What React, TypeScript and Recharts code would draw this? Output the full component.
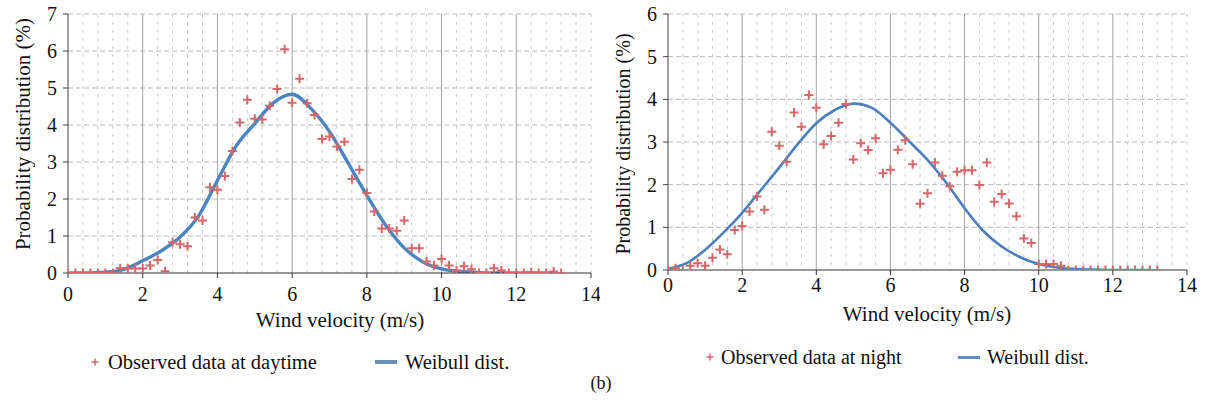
import React from 'react';
import { ComposedChart, XAxis, YAxis, CartesianGrid, Line, Scatter } from 'recharts';

// wind speed bins (m/s) of the observed histograms
const speeds = [
  0, 0.2, 0.4, 0.6, 0.8, 1.0, 1.2, 1.4, 1.6, 1.8, 2.0, 2.2, 2.4, 2.6, 2.8, 3.0, 3.2,
  3.4, 3.6, 3.8, 4.0, 4.2, 4.4, 4.6, 4.8, 5.0, 5.2, 5.4, 5.6, 5.8, 6.0, 6.2, 6.4, 6.6,
  6.8, 7.0, 7.2, 7.4, 7.6, 7.8, 8.0, 8.2, 8.4, 8.6, 8.8, 9.0, 9.2, 9.4, 9.6, 9.8, 10.0,
  10.2, 10.4, 10.6, 10.8, 11.0, 11.2, 11.4, 11.6, 11.8, 12.0, 12.2, 12.4, 12.6, 12.8,
  13.0, 13.2,
];

const dayObserved = [
  0, 0, 0, 0, 0, 0, 0, 0.13, 0.12, 0.12, 0.12, 0.2, 0.35, 0.05, 0.83, 0.78, 0.72,
  1.5, 1.42, 2.32, 2.25, 2.62, 3.3, 4.07, 4.68, 4.17, 4.15, 4.52, 4.97, 6.05, 4.6, 5.25, 4.59, 4.27,
  3.62, 3.69, 3.42, 3.55, 2.54, 2.79, 2.16, 1.66, 1.2, 1.2, 1.14, 1.42, 0.67, 0.67, 0.31, 0.2, 0.38,
  0.2, 0.07, 0.18, 0.1, 0, 0, 0.13, 0.07, 0, 0, 0, 0.02, 0, 0,
  0.04, 0,
];

const nightObserved = [
  0, 0.04, 0, 0.1, 0.16, 0.1, 0.29, 0.48, 0.37, 0.94, 1.03, 1.37, 1.72, 1.41, 3.24, 2.91, 2.54,
  3.69, 3.36, 4.1, 3.8, 2.95, 3.14, 3.45, 3.89, 2.59, 2.97, 2.81, 3.09, 2.27, 2.35, 2.82, 3.04, 2.48,
  1.55, 1.8, 2.52, 2.21, 1.96, 2.3, 2.34, 2.34, 1.99, 2.52, 1.6, 1.78, 1.56, 1.26, 0.74, 0.63, 0.14,
  0.14, 0.14, 0.1, 0, 0, 0, 0, 0, 0, 0, 0, 0, 0, 0,
  0, 0,
];

// fitted Weibull curves, read at 0.5 m/s steps
const curveSpeeds = [
  0, 0.5, 1, 1.5, 2, 2.5, 3, 3.5, 4, 4.5, 5, 5.5, 6, 6.5, 7, 7.5, 8, 8.5, 9, 9.5, 10,
  10.5, 11, 11.5, 12, 12.5, 13,
];
const dayWeibull = [
  0, 0, 0.02, 0.1, 0.33, 0.6, 0.97, 1.55, 2.5, 3.43, 4.04, 4.6, 4.83, 4.45, 3.82, 2.97, 2.1,
  1.3, 0.68, 0.3, 0.11, 0.04, 0.01, 0, 0, 0, 0,
];
const nightWeibull = [
  0.03, 0.16, 0.47, 0.88, 1.34, 1.87, 2.4, 2.95, 3.44, 3.75, 3.9, 3.8, 3.45, 3.02, 2.58, 2.05, 1.45,
  0.92, 0.55, 0.3, 0.14, 0.06, 0.02, 0.01, 0, 0, 0,
];

const xTicks = [0, 2, 4, 6, 8, 10, 12, 14];
const dayYTicks = [0, 1, 2, 3, 4, 5, 6, 7];
const nightYTicks = [0, 1, 2, 3, 4, 5, 6];
const majorLines = [2, 4, 6, 8, 10, 12];
const minorLines = [
  0.4, 0.8, 1.2, 1.6, 2.4, 2.8, 3.2, 3.6, 4.4, 4.8, 5.2, 5.6, 6.4, 6.8, 7.2, 7.6,
  8.4, 8.8, 9.2, 9.6, 10.4, 10.8, 11.2, 11.6, 12.4, 12.8, 13.2, 13.6, 14,
];

const FONT =
  "'Times New Roman', Times, 'Liberation Serif', Tinos, 'Nimbus Roman', 'Nimbus Roman No9 L', FreeSerif, 'DejaVu Serif', 'Noto Serif', serif";
const MARK = '#d4676a';

const toPoints = (xs: number[], ys: number[]) => xs.map((x, i) => ({ x, y: ys[i] }));

const renderCross = (props: any) => {
  const { cx, cy } = props;
  if (cx == null || cy == null) return <g />;
  return (
    <path
      d={`M${cx - 4.5},${cy}H${cx + 4.5}M${cx},${cy - 4.5}V${cy + 4.5}`}
      stroke={MARK}
      strokeWidth={2}
      fill="none"
    />
  );
};

const Txt = ({ x, y, size = 20, rotate = 0, children }: any) => (
  <div
    style={{
      position: 'absolute',
      left: x,
      top: y,
      transform: `translate(-50%, -50%) rotate(${rotate}deg)`,
      fontFamily: FONT,
      fontSize: size,
      lineHeight: 1,
      whiteSpace: 'nowrap',
      color: '#111',
    }}
  >
    {children}
  </div>
);

const LegendCross = ({ x, y }: any) => (
  <svg style={{ position: 'absolute', left: x - 5, top: y - 5 }} width={10} height={10}>
    <path d="M1.5,5H8.5M5,1.5V8.5" stroke={MARK} strokeWidth={1.5} />
  </svg>
);

const LegendLine = ({ x1, x2, y, color, w }: any) => (
  <div
    style={{
      position: 'absolute',
      left: x1,
      top: y - w / 2,
      width: x2 - x1,
      height: w,
      background: color,
    }}
  />
);

const LegendText = ({ x, y, size, children }: any) => (
  <div
    style={{
      position: 'absolute',
      left: x,
      top: y,
      transform: 'translateY(-50%)',
      fontFamily: FONT,
      fontSize: size,
      lineHeight: 1,
      whiteSpace: 'nowrap',
      color: '#111',
    }}
  >
    {children}
  </div>
);

const Panel = ({ points, curve, yMax, yTicks, lineColor, lineWidth, width, right, xHeight, xMargin }: any) => {
  const tickStyle = { fontSize: 20, fill: '#111', fontFamily: FONT };
  return (
    <ComposedChart width={width} height={320} margin={{ top: 14, right, left: 0, bottom: 20 }}>
      <CartesianGrid horizontal={false} verticalValues={minorLines} stroke="#c6c6c6" strokeDasharray="3 5" />
      <CartesianGrid vertical={false} horizontalValues={yTicks.slice(1)} stroke="#b8b8b8" strokeDasharray="5 3" />
      <CartesianGrid horizontal={false} verticalValues={majorLines} stroke="#a3a3a3" />
      <XAxis
        type="number"
        dataKey="x"
        domain={[0, 14]}
        ticks={xTicks}
        interval={0}
        allowDataOverflow
        height={xHeight}
        tickSize={5}
        tickMargin={xMargin}
        stroke="#333"
        tick={tickStyle}
      />
      <YAxis
        type="number"
        dataKey="y"
        domain={[0, yMax]}
        ticks={yTicks}
        interval={0}
        allowDataOverflow
        width={68}
        tickSize={5}
        tickMargin={6}
        stroke="#444"
        tick={tickStyle}
      />
      <Line
        data={curve}
        dataKey="y"
        type="monotone"
        stroke={lineColor}
        strokeWidth={lineWidth}
        dot={false}
        activeDot={false}
        isAnimationActive={false}
      />
      <Scatter data={points} dataKey="y" shape={renderCross} isAnimationActive={false} />
    </ComposedChart>
  );
};

export default function App() {
  const dayPoints = toPoints(speeds, dayObserved);
  const nightPoints = toPoints(speeds, nightObserved);
  const dayCurve = toPoints(curveSpeeds, dayWeibull);
  const nightCurve = toPoints(curveSpeeds, nightWeibull);

  return (
    <div style={{ position: 'absolute', left: 0, top: 0, width: 1206, height: 403, background: '#fff', overflow: 'hidden' }}>
      <div style={{ position: 'absolute', left: 0, top: 0 }}>
        <Panel
          points={dayPoints}
          curve={dayCurve}
          yMax={7}
          yTicks={dayYTicks}
          lineColor="#4a85c1"
          lineWidth={3.4}
          width={600}
          right={9}
          xHeight={27}
          xMargin={9}
        />
      </div>
      <div style={{ position: 'absolute', left: 600, top: 0 }}>
        <Panel
          points={nightPoints}
          curve={nightCurve}
          yMax={6}
          yTicks={nightYTicks}
          lineColor="#4b7fbd"
          lineWidth={2.6}
          width={606}
          right={19}
          xHeight={30}
          xMargin={3}
        />
      </div>

      <Txt x={23} y={134} size={21} rotate={-90}>Probability distribution (%)</Txt>
      <Txt x={340} y={320} size={21}>Wind velocity (m/s)</Txt>
      <Txt x={623} y={144} size={20} rotate={-90}>Probability distribution (%)</Txt>
      <Txt x={927} y={314} size={21}>Wind velocity (m/s)</Txt>

      <LegendCross x={95} y={362} />
      <LegendText x={108} y={362} size={20.5}>Observed data at daytime</LegendText>
      <LegendLine x1={375} x2={397} y={362} color="#6a8fbd" w={4} />
      <LegendText x={405} y={362} size={20.5}>Weibull dist.</LegendText>

      <LegendCross x={710} y={357} />
      <LegendText x={721} y={357} size={20}>Observed data at night</LegendText>
      <LegendLine x1={958} x2={980} y={357} color="#5e8dc8" w={3} />
      <LegendText x={987} y={357} size={20}>Weibull dist.</LegendText>

      <Txt x={601} y={383} size={18}>(b)</Txt>
    </div>
  );
}
